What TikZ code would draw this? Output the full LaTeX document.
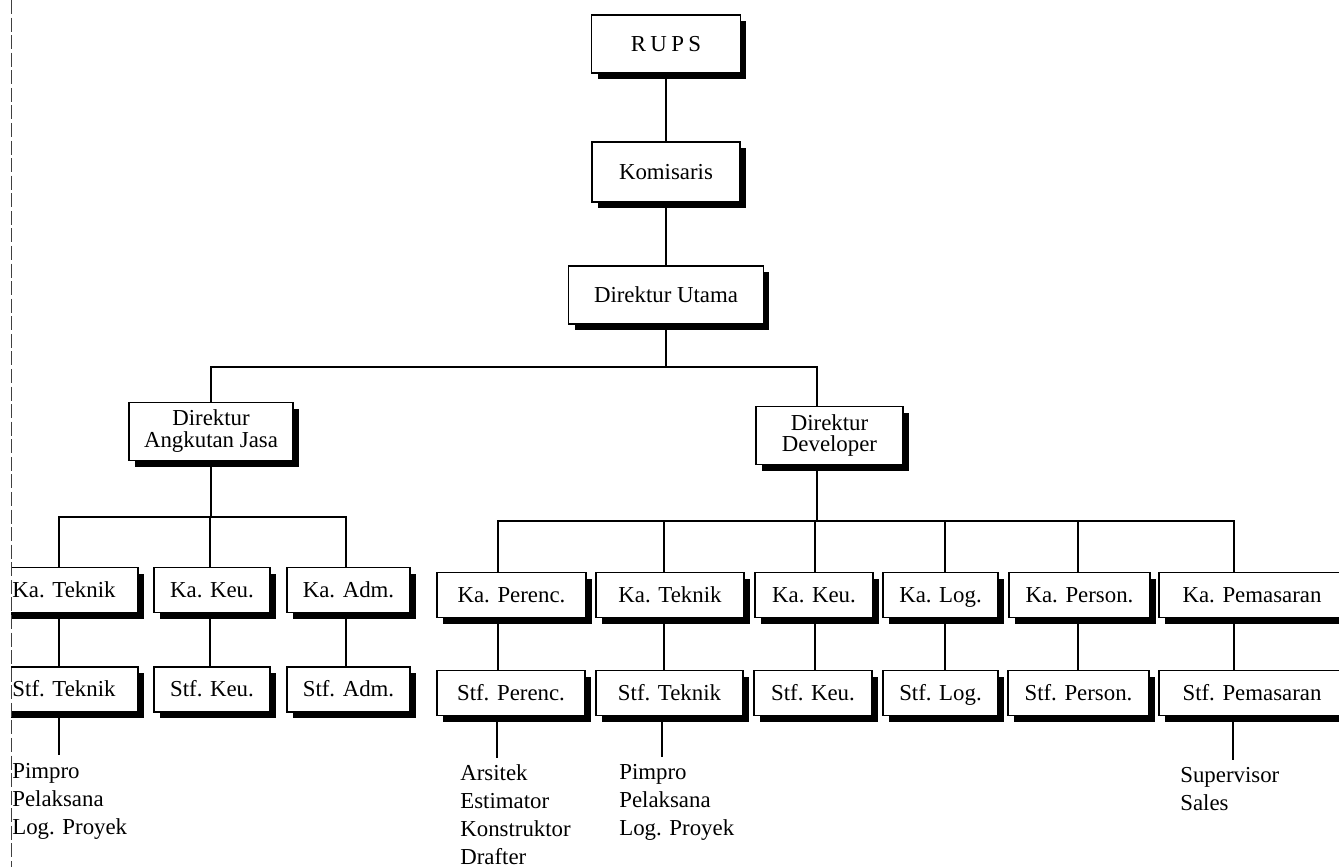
\documentclass[tikz,border=0pt]{standalone}
\usepackage{fontspec}
\setmainfont{Liberation Serif}
\usetikzlibrary{shadows}

\begin{document}
\begin{tikzpicture}[
  x=0.02cm, y=-0.02cm,
  font=\fontsize{13}{16}\selectfont,
  frame/.style={draw, fill=white, line width=1.1pt, inner sep=0pt,
                align=center,
                drop shadow={shadow xshift=0.12cm, shadow yshift=-0.12cm,
                             fill=black, opacity=1}},
  unit/.style={frame, minimum height=0.9cm, text height=10.6pt, text depth=2.2pt},
  head/.style={frame, minimum height=1.16cm, text height=10.6pt, text depth=2.2pt},
  duo/.style={frame, minimum height=1.16cm, font=\fontsize{13}{12.5}\selectfont},
  link/.style={line width=1.1pt},
  jobs/.style={anchor=north west, inner sep=0pt, align=left},
]
\useasboundingbox (0,0) rectangle (1339,867);

\begin{scope}
\clip (11,-10) rectangle (1360,880);

% Top levels
\node[head, minimum width=2.98cm] (rups)   at (666,44)  {R\kern2.5pt U\kern2.5pt P\kern2.5pt S};
\node[head, minimum width=2.96cm, minimum height=1.2cm] (komis) at (666,172) {Komisaris};
\node[head, minimum width=3.9cm]  (dutama) at (666,295) {Direktur Utama};

% Directors
\node[duo, minimum width=3.28cm] (dajasa) at (211,431.5) {Direktur\\Angkutan Jasa};
\node[duo, minimum width=2.94cm] (ddev)   at (829.5,435.5) {Direktur\\Developer};

% Angkutan Jasa
\node[unit, minimum width=2.96cm] (kaTekA) at (64,590)    {Ka. Teknik};
\node[unit, minimum width=2.32cm] (kaKeuA) at (212,590)   {Ka. Keu.};
\node[unit, minimum width=2.46cm] (kaAdmA) at (348.5,590) {Ka. Adm.};
\node[unit, minimum width=2.96cm] (sTekA)  at (64,689.5)    {Stf. Teknik};
\node[unit, minimum width=2.32cm] (sKeuA)  at (212,689.5)   {Stf. Keu.};
\node[unit, minimum width=2.46cm] (sAdmA)  at (348.5,689.5) {Stf. Adm.};

% Developer
\node[unit, minimum width=2.98cm] (kaPer)  at (511.5,595)  {Ka. Perenc.};
\node[unit, minimum width=2.96cm] (kaTekB) at (670,595)    {Ka. Teknik};
\node[unit, minimum width=2.36cm] (kaKeuB) at (814,595)    {Ka. Keu.};
\node[unit, minimum width=2.3cm]  (kaLog)  at (940.5,595)  {Ka. Log.};
\node[unit, minimum width=2.82cm] (kaPers) at (1079.5,595) {Ka. Person.};
\node[unit, minimum width=3.72cm] (kaPem)  at (1252,595)   {Ka. Pemasaran};
\node[unit, minimum width=2.96cm] (sPer)   at (511,693)    {Stf. Perenc.};
\node[unit, minimum width=2.94cm] (sTekB)  at (669.5,693)  {Stf. Teknik};
\node[unit, minimum width=2.36cm] (sKeuB)  at (813,693)    {Stf. Keu.};
\node[unit, minimum width=2.3cm]  (sLog)   at (940.5,693)  {Stf. Log.};
\node[unit, minimum width=2.82cm] (sPers)  at (1078.5,693) {Stf. Person.};
\node[unit, minimum width=3.72cm] (sPem)   at (1252,693)   {Stf. Pemasaran};

% Job lists
\node[jobs] (jobsA)   at (12,763)   {Pimpro\\Pelaksana\\Log. Proyek};
\node[jobs] (jobsPer) at (460,764)  {Arsitek\\Estimator\\Konstruktor\\Drafter};
\node[jobs] (jobsTek) at (619,764)  {Pimpro\\Pelaksana\\Log. Proyek};
\node[jobs] (jobsPem) at (1180,767) {Supervisor\\Sales};

% Bus points
\coordinate (xDev)  at (817,367);
\coordinate (xTekA) at (59,517);  \coordinate (xKeuA) at (210,517);
\coordinate (xAdmA) at (346,517);
\coordinate (xPer)  at (498,521); \coordinate (xTekB) at (664,521);
\coordinate (xKeuB) at (815,521); \coordinate (xLog)  at (945,521);
\coordinate (xPers) at (1078,521); \coordinate (xPem) at (1234,521);
\coordinate (lA)   at (59,755);   \coordinate (lPer) at (497,758);
\coordinate (lTek) at (662,757);  \coordinate (lPem) at (1233,760);

% Links
\draw[link] (rups) -- (komis);
\draw[link] (komis) -- (dutama);
\draw[link] (dutama.south) -- (dutama.south |- xDev);
\draw[link] (dajasa.north) |- (xDev) -- (xDev |- ddev.north);
\draw[link] (dajasa.south) -- (dajasa.south |- xKeuA);
\draw[link] (kaTekA.north -| xTekA) |- (xAdmA) -- (kaAdmA.north -| xAdmA);
\draw[link] (xKeuA) -- (kaKeuA.north -| xKeuA);
\draw[link] (kaTekA.south -| xTekA) -- (sTekA.north -| xTekA);
\draw[link] (kaKeuA.south -| xKeuA) -- (sKeuA.north -| xKeuA);
\draw[link] (kaAdmA.south -| xAdmA) -- (sAdmA.north -| xAdmA);
\draw[link] (ddev.south -| xDev) -- (xDev |- xPer);
\draw[link] (kaPer.north -| xPer) |- (xPem) -- (kaPem.north -| xPem);
\draw[link] (xTekB) -- (kaTekB.north -| xTekB);
\draw[link] (xKeuB) -- (kaKeuB.north -| xKeuB);
\draw[link] (xLog) -- (kaLog.north -| xLog);
\draw[link] (xPers) -- (kaPers.north -| xPers);
\draw[link] (kaPer.south -| xPer) -- (sPer.north -| xPer);
\draw[link] (kaTekB.south -| xTekB) -- (sTekB.north -| xTekB);
\draw[link] (kaKeuB.south -| xKeuB) -- (sKeuB.north -| xKeuB);
\draw[link] (kaLog.south -| xLog) -- (sLog.north -| xLog);
\draw[link] (kaPers.south -| xPers) -- (sPers.north -| xPers);
\draw[link] (kaPem.south -| xPem) -- (sPem.north -| xPem);
\draw[link] (sTekA.south -| lA) -- (lA);
\draw[link] (sPer.south -| lPer) -- (lPer);
\draw[link] (sTekB.south -| lTek) -- (lTek);
\draw[link] (sPem.south -| lPem) -- (lPem);
\end{scope}

% Page edge
\draw[black!75, line width=0.5pt, dash pattern=on 8pt off 2pt] (11,0) -- (11,867);
\end{tikzpicture}
\end{document}
